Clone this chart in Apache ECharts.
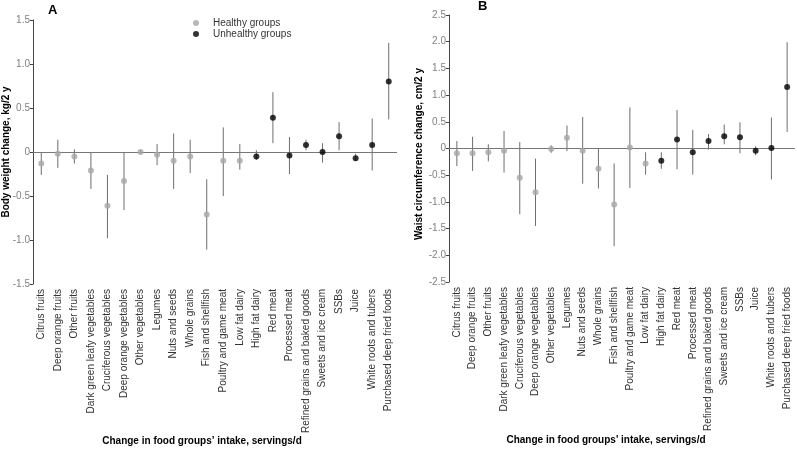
<!DOCTYPE html>
<html>
<head>
<meta charset="utf-8">
<script src="https://cdn.jsdelivr.net/npm/echarts@6/dist/echarts.min.js"></script>
<style>
html,body{margin:0;padding:0;background:#fff;}
#chart{width:797px;height:449px;}
</style>
</head>
<body>
<div id="chart"></div>
<script>
// ---- data ----
var categories = ["Citrus fruits","Deep orange fruits","Other fruits","Dark green leafy vegetables","Cruciferous vegetables","Deep orange vegetables","Other vegetables","Legumes","Nuts and seeds","Whole grains","Fish and shellfish","Poultry and game meat","Low fat dairy","High fat dairy","Red meat","Processed meat","Refined grains and baked goods","Sweets and ice cream","SSBs","Juice","White roots and tubers","Purchased deep fried foods"];
var groupType = ["H","H","H","H","H","H","H","H","H","H","H","H","H","U","U","U","U","U","U","U","U","U"];

var weightEst  = [-0.13,-0.02,-0.05,-0.21,-0.61,-0.33,0.00,-0.03,-0.10,-0.05,-0.71,-0.10,-0.10,-0.05,0.39,-0.04,0.08,0.00,0.18,-0.07,0.08,0.80];
var weightLow  = [-0.26,-0.18,-0.13,-0.42,-0.98,-0.66,-0.02,-0.15,-0.42,-0.24,-1.11,-0.50,-0.20,-0.09,0.10,-0.25,0.02,-0.12,0.02,-0.10,-0.21,0.37];
var weightHigh = [0.00,0.14,0.03,0.00,-0.26,0.00,0.02,0.09,0.21,0.14,-0.31,0.28,0.09,0.02,0.68,0.17,0.14,0.10,0.34,-0.02,0.38,1.24];

var waistEst  = [-0.09,-0.09,-0.07,-0.04,-0.55,-0.82,-0.01,0.20,-0.04,-0.38,-1.05,0.02,-0.28,-0.23,0.17,-0.07,0.14,0.23,0.21,-0.04,0.01,1.15];
var waistLow  = [-0.33,-0.42,-0.24,-0.45,-1.23,-1.45,-0.08,-0.05,-0.66,-0.75,-1.83,-0.74,-0.49,-0.38,-0.39,-0.49,-0.02,0.08,-0.09,-0.13,-0.58,0.31];
var waistHigh = [0.14,0.22,0.08,0.33,0.12,-0.19,0.06,0.43,0.59,0.00,-0.28,0.77,-0.07,-0.07,0.72,0.35,0.27,0.45,0.49,0.04,0.58,1.99];

var legendNames = ["Healthy groups","Unhealthy groups"];
var panelLetters = ["A","B"];
var yNames = ["Body weight change, kg/2 y","Waist circumference change, cm/2 y"];
var xNames = ["Change in food groups\u2019 intake, servings/d","Change in food groups' intake, servings/d"];

// ---- build ----
var GREY = '#a6a6a6', BLACK = '#000000', BAR = '#6e6e6e';
var font = 'Liberation Sans, Arial, sans-serif';

function fmt(v){ return v === 0 ? '0' : v.toFixed(1); }

function pts(est, type){
  return est.map(function(v,i){ return groupType[i] === type ? [i, v] : [i, '-']; });
}
function bars(lo, hi){
  return lo.map(function(v,i){ return [i, v, hi[i]]; });
}
function renderBar(params, api){
  var a = api.coord([api.value(0), api.value(1)]);
  var b = api.coord([api.value(0), api.value(2)]);
  return {type:'line', shape:{x1:a[0], y1:a[1], x2:b[0], y2:b[1]}, style:{stroke:BAR, lineWidth:1}};
}

function xAxisCfg(gi){
  return {
    type:'category', gridIndex:gi, data:categories, boundaryGap:true,
    axisLine:{show:false, onZero:false}, axisTick:{show:false},
    axisLabel:{rotate:90, interval:0, fontSize:10, color:'#333', margin:5, fontFamily:font}
  };
}
function yAxisCfg(gi, mn, mx){
  return {
    type:'value', gridIndex:gi, min:mn, max:mx, interval:0.5,
    splitLine:{show:false},
    axisLine:{show:true, lineStyle:{color:'#444', width:1}},
    axisTick:{show:true, length:3, lineStyle:{color:'#444'}},
    axisLabel:{formatter:fmt, fontSize:10, color:'#808080', margin:3, fontFamily:font}
  };
}
function seriesFor(gi, est, lo, hi){
  return [
    {type:'custom', xAxisIndex:gi, yAxisIndex:gi, renderItem:renderBar, data:bars(lo,hi),
     encode:{x:0, y:[1,2]}, z:1, silent:true},
    {name:legendNames[0], type:'scatter', xAxisIndex:gi, yAxisIndex:gi, data:pts(est,'H'),
     symbol:'circle', symbolSize:6, itemStyle:{color:GREY}, z:3,
     markLine:{silent:true, symbol:['none','none'], label:{show:false},
       lineStyle:{color:'#777', type:'solid', width:1}, data:[{yAxis:0}], z:2}},
    {name:legendNames[1], type:'scatter', xAxisIndex:gi, yAxisIndex:gi, data:pts(est,'U'),
     symbol:'circle', symbolSize:6, itemStyle:{color:BLACK}, z:3}
  ];
}

var option = {
  animation:false,
  backgroundColor:'#fff',
  textStyle:{fontFamily:font},
  grid:[
    {left:33, top:20, width:364, height:264},
    {left:449, top:15, width:346, height:267}
  ],
  legend:{
    data:legendNames, orient:'vertical', left:188, top:13, itemGap:1,
    itemWidth:22, itemHeight:6, icon:'circle',
    textStyle:{fontSize:10, color:'#333', fontFamily:font, padding:[0,0,0,1]}
  },
  xAxis:[xAxisCfg(0), xAxisCfg(1)],
  yAxis:[yAxisCfg(0,-1.5,1.5), yAxisCfg(1,-2.5,2.5)],
  series:[].concat(seriesFor(0, weightEst, weightLow, weightHigh), seriesFor(1, waistEst, waistLow, waistHigh)),
  graphic:[
    {type:'text', left:48, top:4, style:{text:panelLetters[0], font:'bold 13px '+font, fill:'#000'}},
    {type:'text', left:478, top:0, style:{text:panelLetters[1], font:'bold 13px '+font, fill:'#000'}},
    {type:'text', x:6, y:152, rotation:Math.PI/2,
     style:{text:yNames[0], font:'bold 10px '+font, fill:'#000', align:'center', verticalAlign:'middle'}},
    {type:'text', x:419, y:154, rotation:Math.PI/2,
     style:{text:yNames[1], font:'bold 10px '+font, fill:'#000', align:'center', verticalAlign:'middle'}},
    {type:'text', x:202, y:441,
     style:{text:xNames[0], font:'bold 10px '+font, fill:'#000', align:'center', verticalAlign:'middle'}},
    {type:'text', x:606, y:440,
     style:{text:xNames[1], font:'bold 10px '+font, fill:'#000', align:'center', verticalAlign:'middle'}}
  ]
};
var chart = echarts.init(document.getElementById('chart'), null, {renderer:'canvas'});
chart.setOption(option);
</script>
</body>
</html>
